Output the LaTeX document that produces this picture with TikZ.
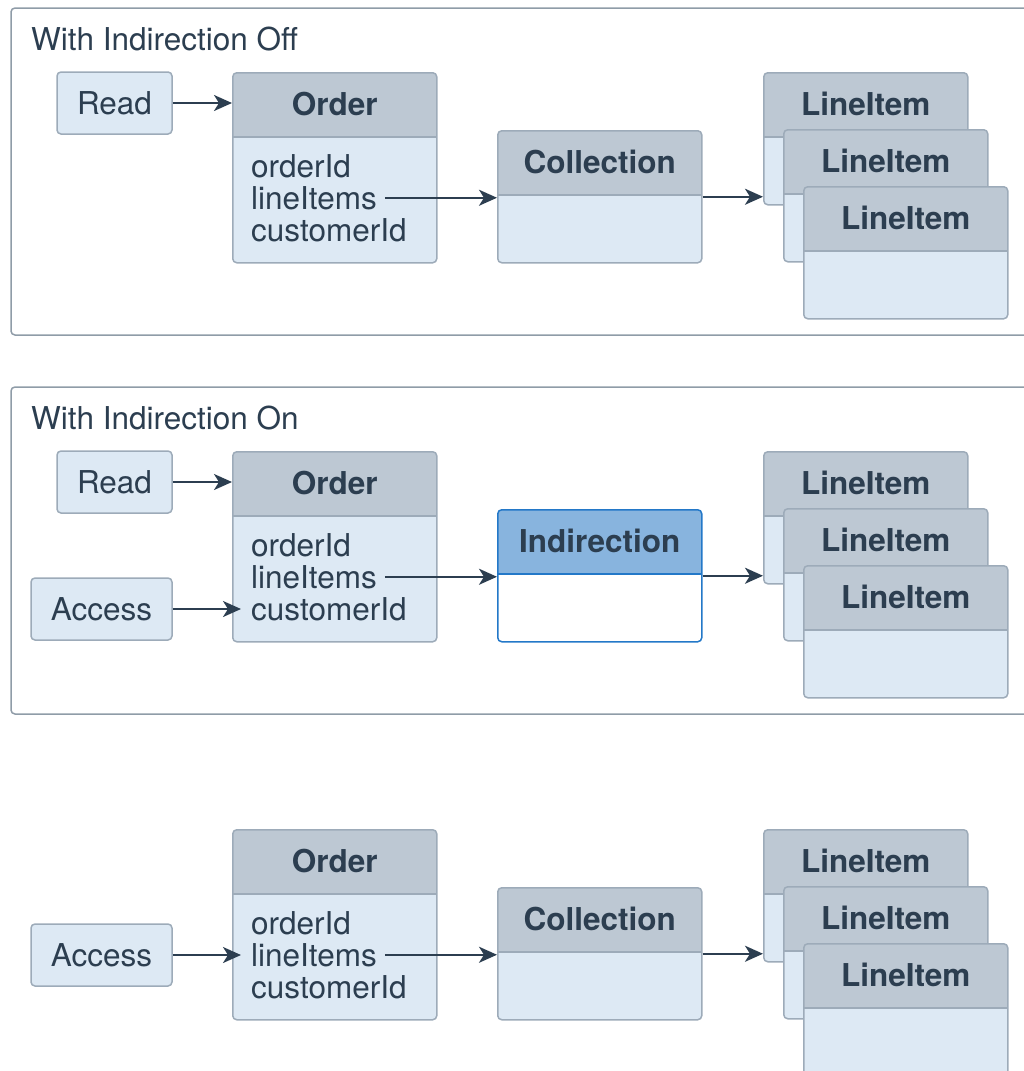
\documentclass[tikz,border=0pt]{standalone}
\usepackage{fontspec}
\setmainfont{TeX Gyre Heros}
\usetikzlibrary{arrows.meta}

\definecolor{ink}{HTML}{2C3E50}
\definecolor{boxfill}{HTML}{DDE9F4}
\definecolor{headfill}{HTML}{BDC8D3}
\definecolor{boxline}{HTML}{9DABB9}
\definecolor{frameline}{HTML}{8F9CA8}
\definecolor{indfill}{HTML}{88B4DE}
\definecolor{indline}{HTML}{2378C8}

\newcommand{\bigtext}{\fontsize{31.5pt}{33pt}\selectfont}

\tikzset{
  headcol/.style={fill=headfill},
  divcol/.style={draw=boxline},
  cls/.style={draw=boxline, fill=boxfill, line width=1.5pt, rounded corners=4pt,
    minimum width=204pt, minimum height=#1, inner sep=0pt, anchor=north west,
    path picture={
      \fill[headcol, sharp corners] (path picture bounding box.north west) rectangle
        ([yshift=-64pt]path picture bounding box.north east);
      \draw[divcol, line width=1.5pt, sharp corners]
        ([yshift=-64pt]path picture bounding box.north west) --
        ([yshift=-64pt]path picture bounding box.north east);}},
  indcls/.style={cls=#1, draw=indline, fill=white,
    headcol/.style={fill=indfill}, divcol/.style={draw=indline}},
  hd/.style={font=\bigtext\bfseries, text=ink, inner sep=0pt},
  fld/.style={font=\bigtext, text=ink, inner sep=0pt, anchor=base west},
  tag/.style={draw=boxline, fill=boxfill, line width=1.5pt, rounded corners=4pt,
    minimum height=62pt, inner sep=0pt, font=\bigtext, text=ink},
  frame/.style={draw=frameline, line width=1.5pt, rounded corners=4pt},
  arr/.style={draw=ink, line width=2.2pt, -{Stealth[length=18pt,width=16pt,inset=5pt]}}
}

\begin{document}
\begin{tikzpicture}[x=1pt,y=-1pt]
   \useasboundingbox (0,0) rectangle (1023,1071);

   % indirection off
   \draw[frame] (11,8) rectangle (1040,335);
   \node[fld] (tt1) at (31,50) {With Indirection Off};
   \node[tag, minimum width=115pt] (rd1) at (114.5,103) {Read};
   \node[cls=190pt] (ord1) at (232,72) {};
   \node[hd] (ordh1) at ([yshift=-32pt]ord1.north) {Order};
   \node[fld] (o1id) at (251,177) {orderId};
   \node[fld] (o1items) at (251,209) {lineItems};
   \node[fld] (o1cust) at (251,241) {customerId};
   \node[cls=132pt] (col1) at (497,130) {};
   \node[hd] (colh1) at ([yshift=-32pt]col1.north) {Collection};
   \node[cls=132pt] (li11) at (763,72) {};
   \node[hd] (lih11) at ([yshift=-32pt]li11.north) {LineItem};
   \node[cls=132pt] (li12) at (783,129) {};
   \node[hd] (lih12) at ([yshift=-32pt]li12.north) {LineItem};
   \node[cls=132pt] (li13) at (803,186) {};
   \node[hd] (lih13) at ([yshift=-32pt]li13.north) {LineItem};

   \draw[arr] (rd1.east) -- (rd1.east -| ord1.west);
   \draw[arr] ([xshift=8pt]o1items.east) -- (o1items.east -| col1.west);
   \draw[arr] (col1.east) -- (col1.east -| li11.west);

   % indirection on
   \draw[frame] (11,387) rectangle (1040,714);
   \node[fld] (tt2) at (31,429) {With Indirection On};
   \node[tag, minimum width=115pt] (rd2) at (114.5,482) {Read};
   \node[tag, minimum width=141pt] (acc2) at (101.5,609) {Access};
   \node[cls=190pt] (ord2) at (232,451) {};
   \node[hd] (ordh2) at ([yshift=-32pt]ord2.north) {Order};
   \node[fld] (o2id) at (251,556) {orderId};
   \node[fld] (o2items) at (251,588) {lineItems};
   \node[fld] (o2cust) at (251,620) {customerId};
   \node[indcls=132pt] (ind2) at (497,509) {};
   \node[hd] (indh2) at ([yshift=-32pt]ind2.north) {Indirection};
   \node[cls=132pt] (li21) at (763,451) {};
   \node[hd] (lih21) at ([yshift=-32pt]li21.north) {LineItem};
   \node[cls=132pt] (li22) at (783,508) {};
   \node[hd] (lih22) at ([yshift=-32pt]li22.north) {LineItem};
   \node[cls=132pt] (li23) at (803,565) {};
   \node[hd] (lih23) at ([yshift=-32pt]li23.north) {LineItem};

   \draw[arr] (rd2.east) -- (rd2.east -| ord2.west);
   \draw[arr] (acc2.east) -- ([xshift=-10pt]acc2.east -| o2cust.west);
   \draw[arr] ([xshift=8pt]o2items.east) -- (o2items.east -| ind2.west);
   \draw[arr] (ind2.east) -- (ind2.east -| li21.west);

   % no frame
   \node[tag, minimum width=141pt] (acc3) at (101.5,955) {Access};
   \node[cls=190pt] (ord3) at (232,829) {};
   \node[hd] (ordh3) at ([yshift=-32pt]ord3.north) {Order};
   \node[fld] (o3id) at (251,934) {orderId};
   \node[fld] (o3items) at (251,966) {lineItems};
   \node[fld] (o3cust) at (251,998) {customerId};
   \node[cls=132pt] (col3) at (497,887) {};
   \node[hd] (colh3) at ([yshift=-32pt]col3.north) {Collection};
   \node[cls=132pt] (li31) at (763,829) {};
   \node[hd] (lih31) at ([yshift=-32pt]li31.north) {LineItem};
   \node[cls=132pt] (li32) at (783,886) {};
   \node[hd] (lih32) at ([yshift=-32pt]li32.north) {LineItem};
   \node[cls=132pt] (li33) at (803,943) {};
   \node[hd] (lih33) at ([yshift=-32pt]li33.north) {LineItem};

   \draw[arr] (acc3.east) -- ([xshift=-10pt]acc3.east -| o3items.west);
   \draw[arr] ([xshift=8pt]o3items.east) -- (o3items.east -| col3.west);
   \draw[arr] (col3.east) -- (col3.east -| li31.west);
\end{tikzpicture}
\end{document}
